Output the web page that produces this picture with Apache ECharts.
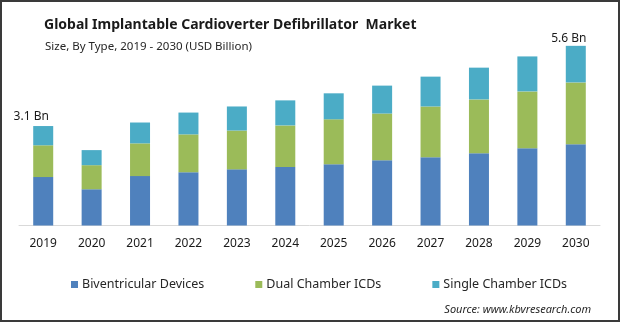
<!DOCTYPE html>
<html>
<head>
<meta charset="utf-8">
<script src="https://cdn.jsdelivr.net/npm/echarts@6/dist/echarts.min.js"></script>
<style>
html,body{margin:0;padding:0;background:#fff;}
#wrap{position:relative;width:620px;height:322px;box-sizing:border-box;border:2px solid #3a3a3a;}
#chart{position:absolute;left:-2px;top:-2px;width:620px;height:322px;}
</style>
</head>
<body>
<div id="wrap"><div id="chart"></div></div>
<script>
const years = ['2019','2020','2021','2022','2023','2024','2025','2026','2027','2028','2029','2030'];
const biventricular = [1.51, 1.13, 1.54, 1.66, 1.75, 1.82, 1.91, 2.03, 2.13, 2.25, 2.41, 2.53];
const dualChamber   = [0.99, 0.75, 1.02, 1.18, 1.21, 1.30, 1.40, 1.46, 1.58, 1.68, 1.77, 1.93];
const singleChamber = [0.60, 0.47, 0.65, 0.68, 0.75, 0.78, 0.81, 0.87, 0.93, 0.99, 1.09, 1.14];
const totalLabels = {0: '3.1 Bn', 11: '5.6 Bn'};
const seriesNames = ['Biventricular Devices', 'Dual Chamber ICDs', 'Single Chamber ICDs'];
const colors = ['#4f81bd', '#9bbb59', '#4bacc6'];

const FONT = 'Noto Sans';
const chart = echarts.init(document.getElementById('chart'), null, {renderer: 'canvas'});

const topData = singleChamber.map((v, i) => {
  if (totalLabels[i] === undefined) return v;
  return {
    value: v,
    label: {
      show: true, position: 'top', formatter: totalLabels[i],
      offset: i === 0 ? [-12, 2] : [-7, 4],
      color: '#1a1a1a', fontSize: 12, fontFamily: FONT
    }
  };
});

chart.setOption({
  animation: false,
  title: [
    {text: 'Global Implantable Cardioverter Defibrillator  Market', left: 39, top: 13,
     textStyle: {fontFamily: FONT, fontWeight: 'bold', fontSize: 14, color: '#1a1a1a'}},
    {text: 'Size, By Type, 2019 - 2030 (USD Billion)', left: 40, top: 36,
     textStyle: {fontFamily: FONT, fontWeight: 'normal', fontSize: 11.5, color: '#262626'}},
    {text: 'Source: www.kbvresearch.com', right: 24, top: 299,
     textStyle: {fontFamily: FONT, fontStyle: 'italic', fontWeight: 'normal', fontSize: 11, color: '#262626'}}
  ],
  legend: {
    data: seriesNames, left: 66, top: 273,
    itemWidth: 7, itemHeight: 7, itemGap: 51, icon: 'rect',
    textStyle: {fontFamily: FONT, fontSize: 12.5, color: '#262626', padding: [0, 0, 0, -1]}
  },
  grid: {left: 19, right: 20, top: 33, bottom: 96.5},
  xAxis: {
    type: 'category', data: years,
    axisLine: {lineStyle: {color: '#d9d9d9', width: 1}},
    axisTick: {show: false},
    axisLabel: {fontFamily: FONT, fontSize: 12, color: '#1a1a1a', margin: 12}
  },
  yAxis: {type: 'value', min: 0, max: 6, show: false, splitLine: {show: false}},
  series: [
    {name: seriesNames[0], type: 'bar', stack: 't', data: biventricular, barWidth: 20, itemStyle: {color: colors[0]}},
    {name: seriesNames[1], type: 'bar', stack: 't', data: dualChamber, barWidth: 20, itemStyle: {color: colors[1]}},
    {name: seriesNames[2], type: 'bar', stack: 't', data: topData, barWidth: 20, itemStyle: {color: colors[2]}}
  ]
});
</script>
</body>
</html>
